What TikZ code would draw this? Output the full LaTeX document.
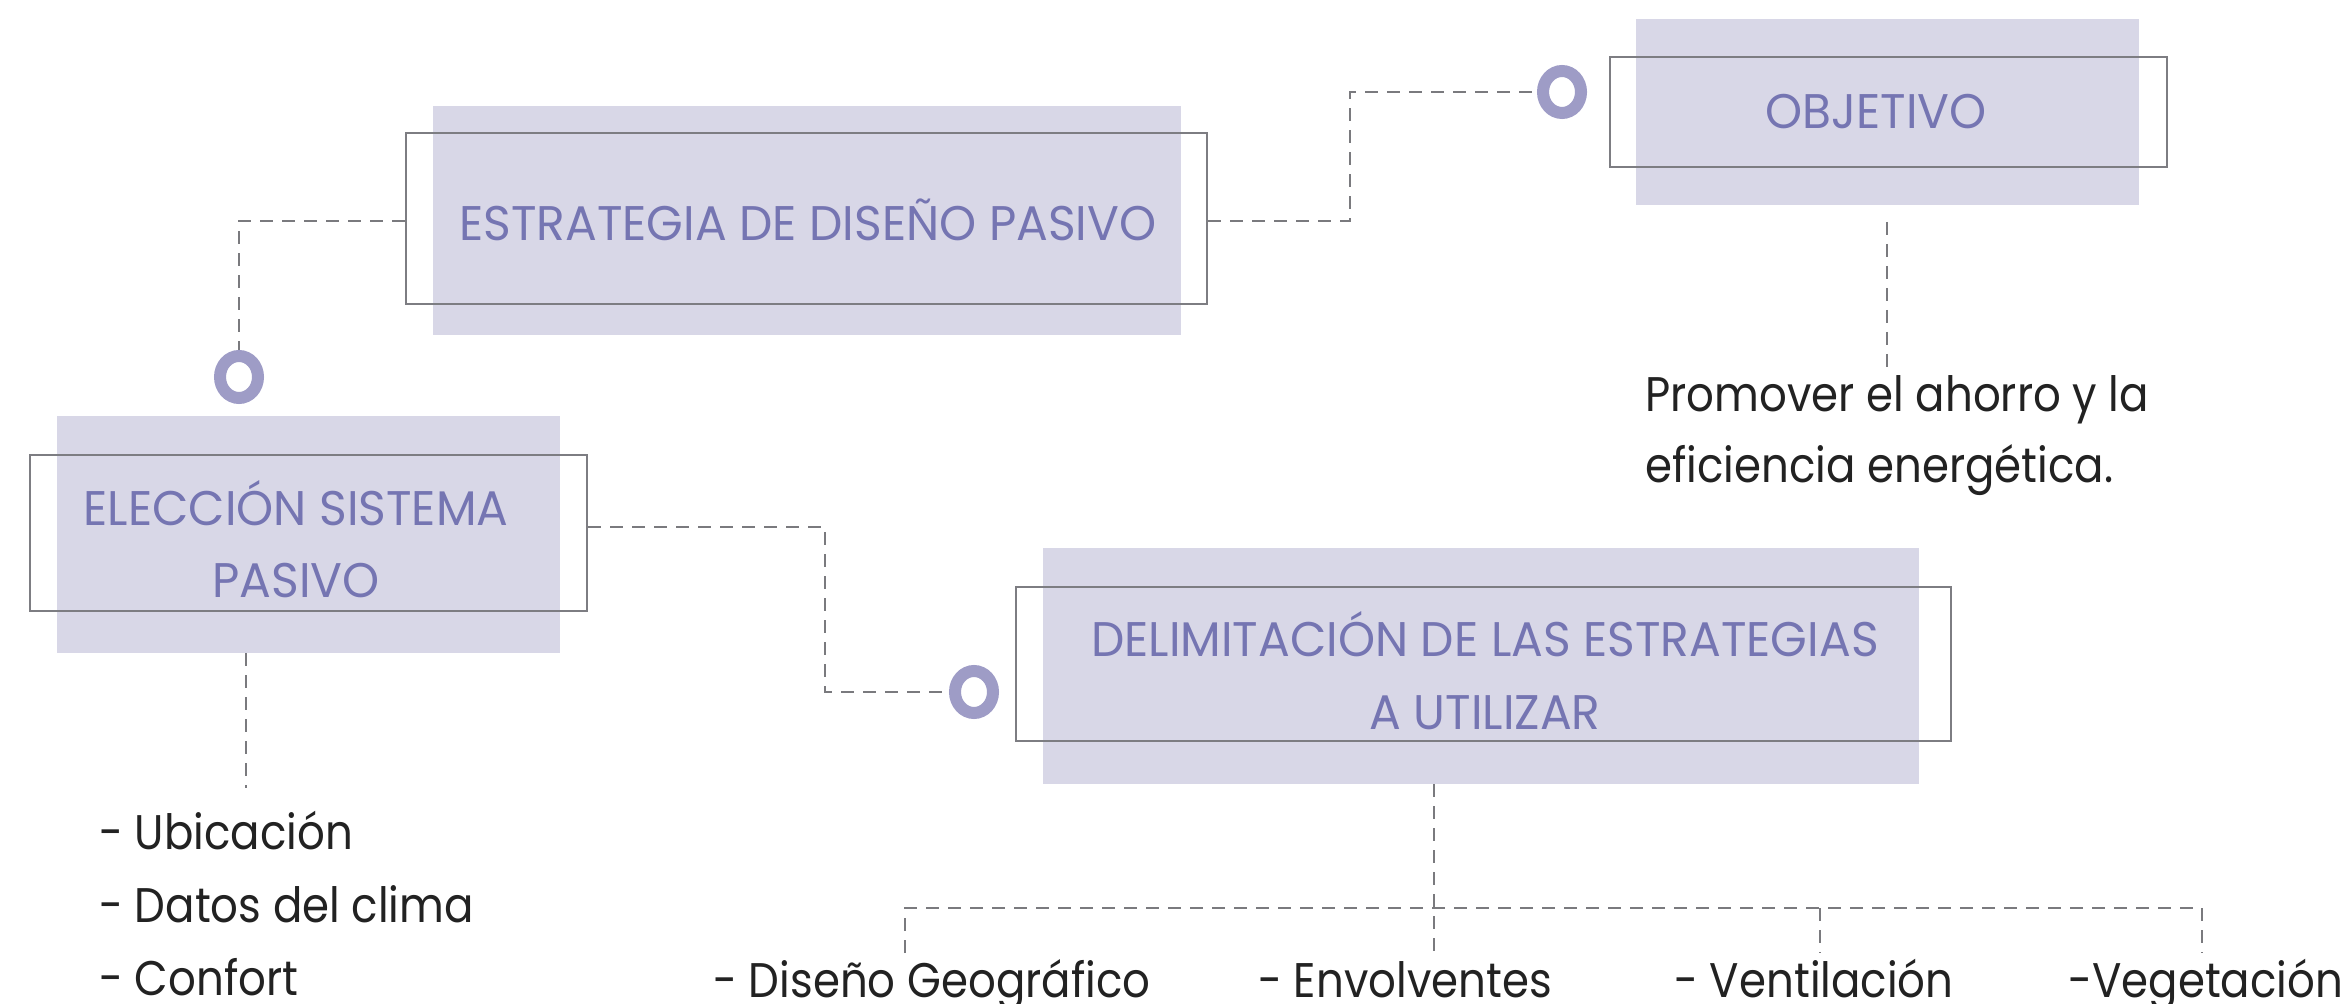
\documentclass[tikz,border=0pt]{standalone}
\usepackage{fontspec}
\setmainfont{Poppins}[FakeStretch=0.895]
\newfontfamily\capsfont{Poppins}[FakeStretch=0.97]
\usetikzlibrary{fit,shapes.geometric,backgrounds}
\definecolor{boxfill}{RGB}{216,215,231}
\definecolor{boxtext}{RGB}{117,117,178}
\definecolor{outl}{RGB}{125,125,130}
\definecolor{ringc}{RGB}{158,156,198}
\definecolor{dashc}{RGB}{122,122,126}
\definecolor{bodytext}{RGB}{34,34,34}
\tikzset{
  fillbox/.style={inner sep=0pt, fill=boxfill, draw=none},
  outbox/.style={inner sep=0pt, draw=outl, line width=1.4pt},
  boxlbl/.style={anchor=base, inner sep=0pt, text=boxtext, font=\capsfont\fontsize{24.3}{36}\selectfont},
  bodylbl/.style={anchor=base west, inner sep=0pt, text=bodytext, font=\fontsize{24.3}{36}\selectfont},
  ring/.style={ellipse, draw=ringc, line width=6pt, inner sep=0pt, minimum width=19pt, minimum height=21pt, fill=white},
  dashline/.style={draw=dashc, line width=1.35pt, dash pattern=on 6.5pt off 4.5pt}
}
\begin{document}
\begin{tikzpicture}[x=0.5pt, y=-0.5pt]
\useasboundingbox (0,0) rectangle (2349,1004);
% boxes
\node[fillbox, fit={(433,106) (1181,335)}] (f1) {};
\node[outbox, fit={(406,133) (1207,304)}] (o1) {};
\node[fillbox, fit={(1636,19) (2139,205)}] (f3) {};
\node[outbox, fit={(1610,57) (2167,167)}] (o3) {};
\node[fillbox, fit={(57,416) (560,653)}] (f2) {};
\node[outbox, fit={(30,455) (587,611)}] (o2) {};
\node[fillbox, fit={(1043,548) (1919,784)}] (f4) {};
\node[outbox, fit={(1016,587) (1951,741)}] (o4) {};
% box texts
\node[boxlbl] (t1) at (808,241) {ESTRATEGIA DE DISEÑO PASIVO};
\node[boxlbl] (t3) at (1876,129) {OBJETIVO};
\node[boxlbl] (t2a) at (296,526) {ELECCIÓN SISTEMA};
\node[boxlbl] (t2b) at (296,598) {PASIVO};
\node[boxlbl] (t4a) at (1485,657) {DELIMITACIÓN DE LAS ESTRATEGIAS};
\node[boxlbl] (t4b) at (1485,729) {A UTILIZAR};
% body texts
\node[bodylbl] (p1) at (1645,412) {Promover el ahorro y la};
\node[bodylbl] (p2) at (1645,483) {eficiencia energética.};
\node[bodylbl] (l1) at (99,849) {- Ubicación};
\node[bodylbl] (l2) at (99,922) {- Datos del clima};
\node[bodylbl] (l3) at (99,995) {- Confort};
\node[bodylbl] (b1) at (713,997) {- Diseño Geográfico};
\node[bodylbl] (b2) at (1258,997) {- Envolventes};
\node[bodylbl] (b3) at (1674,997) {- Ventilación};
\node[bodylbl] (b4) at (2068,997) {-Vegetación};
% rings
\node[ring] (r1) at (1562,92) {};
\node[ring] (r2) at (239,377) {};
\node[ring] (r3) at (974,692) {};
% junction coordinates
\coordinate (c1) at (239,221);
\coordinate (c2) at (1350,221);
\coordinate (c3) at (825,527);
\coordinate (c4) at (246,788);
\coordinate (c5a) at (1887,222);
\coordinate (c5b) at (1887,372);
\coordinate (h0) at (1434,908);
\coordinate (d1) at (905,953);
\coordinate (d2) at (1434,953);
\coordinate (d3) at (1820,953);
\coordinate (d4) at (2202,953);
% connectors
\begin{scope}[on background layer]
\draw[dashline] (o1.west |- c1) -- (c1) -- (r2.north);
\draw[dashline] (o1.east |- c2) -- (c2) |- (r1.west);
\draw[dashline] (o2.east |- c3) -- (c3) |- (r3.west);
\draw[dashline] (f2.south -| c4) -- (c4);
\draw[dashline] (c5a) -- (c5b);
\draw[dashline] (f4.south -| h0) -- (d2);
\draw[dashline] (d1) -- (d1 |- h0) -- (d4 |- h0) -- (d4);
\draw[dashline] (d3 |- h0) -- (d3);
\end{scope}
\end{tikzpicture}
\end{document}
